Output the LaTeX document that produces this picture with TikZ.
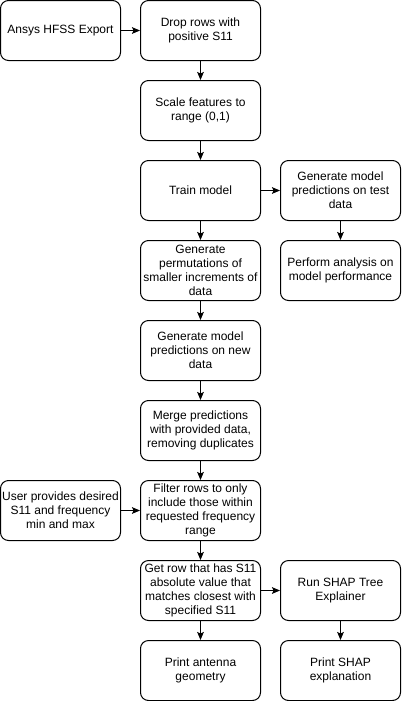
\documentclass[tikz,border=0pt]{standalone}
\usepackage{fontspec}
\setmainfont{Liberation Sans}
\usetikzlibrary{arrows.meta}
\begin{document}
\begin{tikzpicture}[x=0.75pt,y=-0.75pt,
  box/.style={draw=black, line width=0.75pt, rounded corners=6pt, fill=white,
    minimum width=90pt, minimum height=45pt, inner sep=1pt, align=center,
    font=\fontsize{9}{10.4}\selectfont},
  arr/.style={draw=black, line width=0.75pt, -{Stealth[length=6pt,width=5pt,inset=1.2pt]}}]
\useasboundingbox (0,0) rectangle (401,701);
\fill[white] (0,0) rectangle (401,701);
\node[box] (a) at (60.5,30.5) {Ansys HFSS Export};
\node[box] (b) at (200.5,30.5) {Drop rows with\\positive S11};
\node[box] (c) at (200.5,110.5) {Scale features to\\range (0,1)};
\node[box] (d) at (200.5,190.5) {Train model};
\node[box] (e) at (340.5,190.5) {Generate model\\predictions on test\\data};
\node[box] (f) at (340.5,270.5) {Perform analysis on\\model performance};
\node[box] (g) at (200.5,270.5) {Generate\\permutations of\\smaller increments of\\data};
\node[box] (h) at (200.5,350.5) {Generate model\\predictions on new\\data};
\node[box] (i) at (200.5,430.5) {Merge predictions\\with provided data,\\removing duplicates};
\node[box] (u) at (60.5,510.5) {User provides desired\\S11 and frequency\\min and max};
\node[box] (j) at (200.5,510.5) {Filter rows to only\\include those within\\requested frequency\\range};
\node[box] (k) at (200.5,590.5) {Get row that has S11\\absolute value that\\matches closest with\\specified S11};
\node[box] (l) at (340.5,590.5) {Run SHAP Tree\\Explainer};
\node[box] (m) at (200.5,670.5) {Print antenna\\geometry};
\node[box] (n) at (340.5,670.5) {Print SHAP\\explanation};
\draw[arr] (a) -- (b);
\draw[arr] (b) -- (c);
\draw[arr] (c) -- (d);
\draw[arr] (d) -- (e);
\draw[arr] (e) -- (f);
\draw[arr] (d) -- (g);
\draw[arr] (g) -- (h);
\draw[arr] (h) -- (i);
\draw[arr] (i) -- (j);
\draw[arr] (u) -- (j);
\draw[arr] (j) -- (k);
\draw[arr] (k) -- (l);
\draw[arr] (k) -- (m);
\draw[arr] (l) -- (n);
\end{tikzpicture}
\end{document}
